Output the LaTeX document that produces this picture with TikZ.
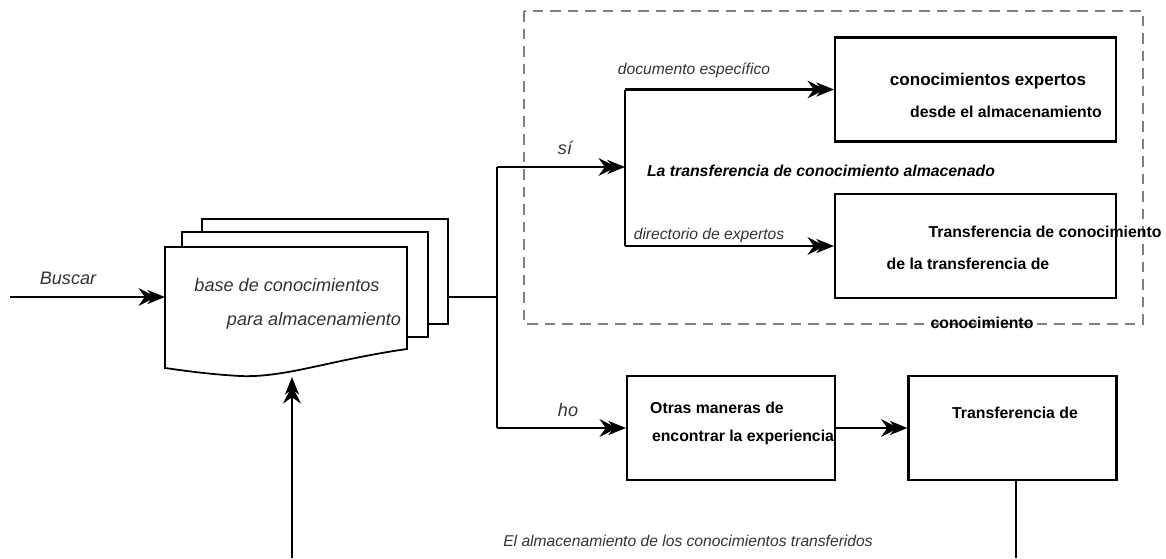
\documentclass[tikz,border=0pt]{standalone}
\usepackage{fontspec}
\setmainfont{Liberation Sans}
\usetikzlibrary{positioning,arrows.meta}

\begin{document}
\begin{tikzpicture}[x=0.02cm,y=-0.02cm,
    box/.style={draw, line width=1.2pt, minimum width=5.62cm, minimum height=2.08cm, inner sep=0pt},
    smallbox/.style={draw, line width=1.2pt, minimum width=4.16cm, minimum height=2.08cm, inner sep=0pt},
    lbl/.style={font=\fontsize{8.9}{10}\selectfont\itshape, text=black!80, inner sep=0pt},
    biglbl/.style={font=\fontsize{10.3}{12}\selectfont\itshape, text=black!80, inner sep=0pt},
    txt/.style={font=\fontsize{9}{11}\selectfont\bfseries, inner sep=0pt},
    arr/.style={line width=1.3pt, -{Stealth[length=10pt,width=10pt,inset=3.5pt,sep=-5pt]Stealth[length=10pt,width=8pt,inset=3pt]}},
    ln/.style={line width=1.3pt}]

    \useasboundingbox (0,0) rectangle (1166,558);

    % Stack of documents
    \draw[line width=1pt, fill=white] (202,219) rectangle (448,324);
    \draw[line width=1pt, fill=white] (182,232) rectangle (428,337);
    \draw[line width=1pt, fill=white] (165,247) -- (407,247) -- (407,349)
        .. controls (330,360) and (285,378) .. (240,376)
        .. controls (205,374) and (180,370) .. (165,368) -- cycle;
    \node[biglbl] (kb1) at (287,285) {base de conocimientos};
    \node[biglbl] (kb2) at (314,321) {para almacenamiento};

    % Input
    \coordinate (bstart) at (10,297);
    \coordinate (docin) at (165,297);
    \draw[arr] (bstart) -- (docin);
    \node[biglbl] (buscar) at (68,278) {Buscar};

    % Split into yes / no
    \coordinate (docout) at (448,297);
    \coordinate (split) at (497,297);
    \coordinate (splittop) at (497,167);
    \coordinate (splitbot) at (497,428);
    \draw[ln] (docout) -- (split);
    \draw[ln] (splittop) -- (splitbot);

    % Dashed frame
    \draw[gray, line width=1pt, dash pattern=on 6pt off 4pt] (524,11) rectangle (1143,324);

    % Boxes
    \node[box] (expert) at (975.5,89.5) {};
    \node[box] (transfer) at (975.5,246) {};
    \node[smallbox] (other) at (731,428) {};
    \node[smallbox] (trans2) at (1012.5,428) {};

    % Yes branch
    \coordinate (yes) at (625,167);
    \coordinate (hubtop) at (625,89.5);
    \coordinate (hubbot) at (625,246);
    \draw[arr] (splittop) -- (yes);
    \draw[ln] (hubtop) -- (hubbot);
    \draw[arr] (hubtop) -- (expert.west);
    \draw[arr] (hubbot) -- (transfer.west);
    \node[biglbl] (si) at (565,148) {sí};
    \node[lbl] (doc) at (694,70) {documento específico};
    \node[lbl] (dir) at (709,235) {directorio de expertos};
    \node[txt, font=\fontsize{9}{11}\selectfont\bfseries\itshape] (stored) at (821,171) {La transferencia de conocimiento almacenado};

    % No branch
    \draw[arr] (splitbot) -- (other.west);
    \draw[arr] (other.east) -- (trans2.west);
    \node[biglbl] (no) at (568,410) {ho};

    % Box texts
    \node[txt, font=\fontsize{9.7}{11}\selectfont\bfseries] (e1) at (988,81) {conocimientos expertos};
    \node[txt] (e2) at (1006,112) {desde el almacenamiento};
    \node[txt] (t1) at (1045,232) {Transferencia de conocimiento};
    \node[txt] (t2) at (968,264) {de la transferencia de};
    \node[txt] (t3) at (982,323) {conocimiento};
    \node[txt] (o1) at (717,408) {Otras maneras de};
    \node[txt] (o2) at (743,437) {encontrar la experiencia};
    \node[txt] (r1) at (1015,413) {Transferencia de};

    % Feedback to storage
    \coordinate (down) at (1016,558);
    \coordinate (upfrom) at (292,558);
    \coordinate (docbot) at (292,377);
    \draw[ln] (trans2.south -| down) -- (down);
    \draw[arr] (upfrom) -- (docbot);
    \node[lbl] (store) at (688,541) {El almacenamiento de los conocimientos transferidos};
\end{tikzpicture}
\end{document}
